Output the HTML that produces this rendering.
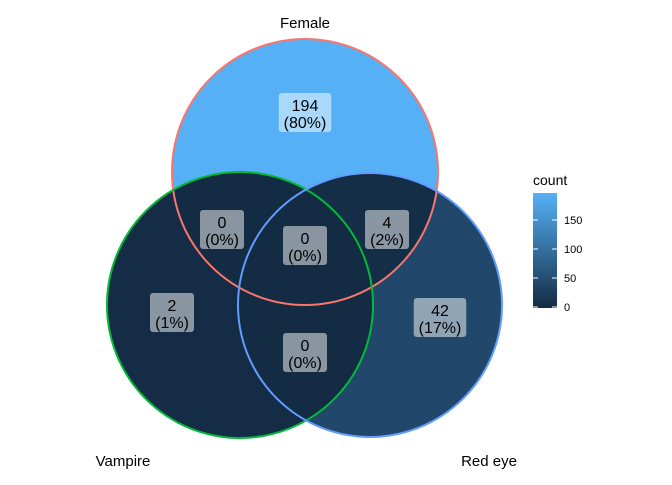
<!DOCTYPE html>
<html><head><meta charset="utf-8"><style>
body{margin:0;background:#fff}
svg text{font-family:"Liberation Sans",Arial,sans-serif}
</style></head><body>
<svg id="chart" width="672" height="480" xmlns="http://www.w3.org/2000/svg">
<defs>
<linearGradient id="cb" x1="0" y1="1" x2="0" y2="0">
<stop offset="0" stop-color="#132B43"/><stop offset="1" stop-color="#56B1F7"/>
</linearGradient>
</defs>
<g id="regions"></g>
<g id="circles"></g>
<g id="labels"></g>
<g id="setnames"></g>
<g id="legend"></g>
</svg>
<script>
const setNames = ["Female", "Vampire", "Red eye"];
const regionSets = [[0],[1],[2],[0,1],[0,2],[1,2],[0,1,2]];
const regionCounts = [194, 2, 42, 0, 4, 0, 0];
const regionPercents = ["80%", "1%", "17%", "0%", "2%", "0%", "0%"];
const legendTicks = [0, 50, 100, 150];

const NS = "http://www.w3.org/2000/svg";
const svg = document.getElementById('chart');
const defs = svg.querySelector('defs');
const circ = [{x:305,y:172,r:133},{x:240,y:305,r:133},{x:370,y:305,r:132}];
const strokes = ["#F8766D","#00BA38","#619CFF"];
const labelPos = [[305,113],[172,313],[440,318],[222,230],[387,230],[305,353],[305,246]];
const namePos = [[305,28],[123,466],[489,466]];
const maxC = 196;
function mk(t,a,p){const e=document.createElementNS(NS,t);for(const k in a)e.setAttribute(k,a[k]);if(p)p.appendChild(e);return e;}
function lerp(a,b,t){return Math.round(a+(b-a)*t);}
function color(v){const t=Math.max(0,Math.min(1,v/maxC));
  return `rgb(${lerp(0x13,0x56,t)},${lerp(0x2B,0xB1,t)},${lerp(0x43,0xF7,t)})`;}
circ.forEach((c,i)=>{const cp=mk('clipPath',{id:'cp'+i},defs);mk('circle',{cx:c.x,cy:c.y,r:c.r},cp);});
const regG=document.getElementById('regions');
regionSets.forEach((s,ri)=>{
  const out=[0,1,2].filter(i=>!s.includes(i));
  const m=mk('mask',{id:'m'+ri},defs);
  mk('rect',{x:0,y:0,width:672,height:480,fill:'#fff'},m);
  out.forEach(i=>mk('circle',{cx:circ[i].x,cy:circ[i].y,r:circ[i].r,fill:'#000'},m));
  let g=mk('g',{mask:'url(#m'+ri+')'},regG);
  s.forEach(i=>{g=mk('g',{'clip-path':'url(#cp'+i+')'},g);});
  const r=mk('rect',{x:0,y:0,width:672,height:480,fill:color(regionCounts[ri])},g);
  
  
});
const cg=document.getElementById('circles');
circ.forEach((c,i)=>{const e=mk('circle',{cx:c.x,cy:c.y,r:c.r,fill:'none',stroke:strokes[i],'stroke-width':2},cg);
  
  });
const lg=document.getElementById('labels');
regionCounts.forEach((v,i)=>{const [x,y]=labelPos[i];
  const g=mk('g',{},lg);
  
  
  const w=(String(regionPercents[i]).length+2)*8.5+10;
  mk('rect',{x:x-w/2,y:y-20,width:w,height:39,rx:3,fill:'#fff','fill-opacity':0.5},g);
  const t1=mk('text',{x:x,y:y-2,'text-anchor':'middle','font-size':16,fill:'#000'},g);t1.textContent=v;
  const t2=mk('text',{x:x,y:y+15,'text-anchor':'middle','font-size':16,fill:'#000'},g);t2.textContent='('+regionPercents[i]+')';
});
const sg=document.getElementById('setnames');
setNames.forEach((n,i)=>{const t=mk('text',{x:namePos[i][0],y:namePos[i][1],'text-anchor':'middle','font-size':15,fill:'#000'},sg);
  t.textContent=n;});
const L=document.getElementById('legend');
const by0=307, pxPer=0.58, bTop=193;
const lt=mk('text',{x:533,y:185,'font-size':14,fill:'#000'},L);lt.textContent='count';

const bar=mk('rect',{x:533,y:bTop,width:24,height:by0+1-bTop,fill:'url(#cb)'},L);

legendTicks.forEach(v=>{const y=by0-v*pxPer;
  mk('line',{x1:533,x2:538,y1:y,y2:y,stroke:'#fff','stroke-width':1},L);
  mk('line',{x1:552,x2:557,y1:y,y2:y,stroke:'#fff','stroke-width':1},L);
  const t=mk('text',{x:564,y:y+4,'font-size':11,fill:'#000'},L);t.textContent=v;
  });
</script>
</body></html>
